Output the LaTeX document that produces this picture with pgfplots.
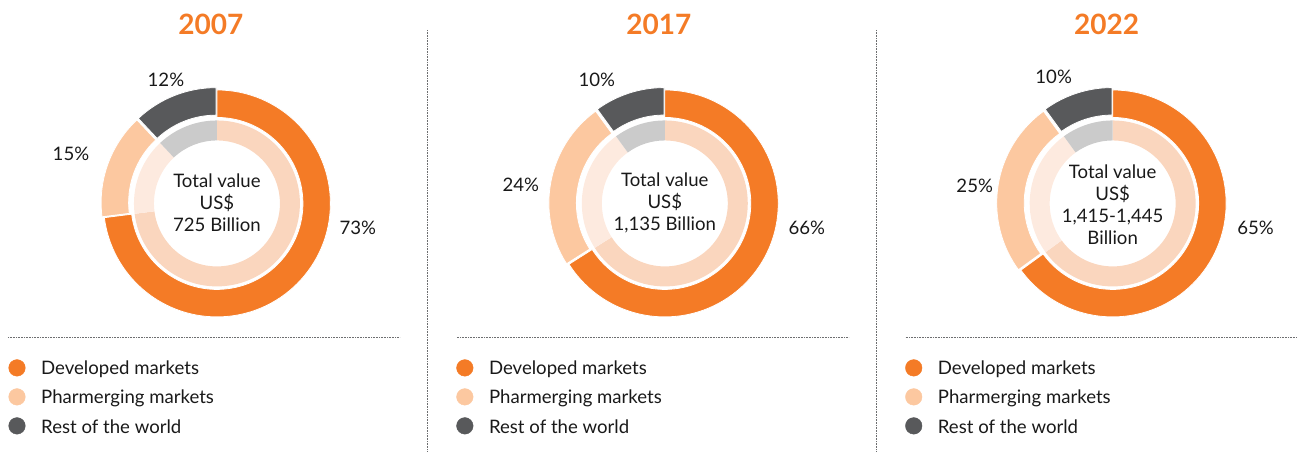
\documentclass[border=0pt]{standalone}
\usepackage{fontspec}
\setmainfont{Lato}
\usepackage{pgfplots}
\pgfplotsset{compat=1.18}

\definecolor{cdev}{HTML}{F47B26}
\definecolor{cpha}{HTML}{FCC8A0}
\definecolor{crow}{HTML}{58595B}
\definecolor{idev}{HTML}{FAD6BE}
\definecolor{ipha}{HTML}{FDEADF}
\definecolor{irow}{HTML}{CBCBCB}
\definecolor{sep}{HTML}{6D6E70}

\tikzset{txt/.style={inner sep=0pt,text=black!90,font=\fontsize{18.6}{22}\selectfont},
  ttl/.style={inner sep=0pt,text=cdev,font=\fontsize{28}{30}\selectfont\bfseries},
  dots/.style={sep,line width=0.8pt,dash pattern=on 0.8pt off 0.8pt}}

% annular sector: start angle, end angle, inner r, outer r
\newcommand{\sector}[5][]{%
  \fill[#1] (#2:#5pt) arc[start angle=#2,end angle=#3,radius=#5pt]
    -- (#3:#4pt) arc[start angle=#3,end angle=#2,radius=#4pt] -- cycle;}

% donut: centre x, centre y, developed, pharmerging, rest (percent)
\newcommand{\donut}[5]{%
  \pgfmathsetmacro\aA{90-3.6*#3}%
  \pgfmathsetmacro\aB{\aA-3.6*#4}%
  \pgfmathsetmacro\mB{(\aA+\aB)/2}%
  \pgfmathsetmacro\mC{(\aB-270)/2}%
  \begin{scope}[shift={(axis cs:#1,#2)}]
    \sector[idev]{90}{\aA}{63}{83}
    \sector[ipha]{\aA}{\aB}{63}{83}
    \sector[irow]{\aB}{-270}{63}{83}
    \sector[cdev,draw=white,line width=0.8pt]{90}{\aA}{86}{113.5}
    \begin{scope}[shift={(\mB:2.5pt)}]
      \sector[cpha,draw=white,line width=0.8pt]{\aA}{\aB}{86}{113.5}
    \end{scope}
    \begin{scope}[shift={(\mC:2.5pt)}]
      \sector[crow,draw=white,line width=0.8pt]{\aB}{-270}{86}{113.5}
    \end{scope}
  \end{scope}}

\newcommand{\legtext}[1]{%
  \node[txt,anchor=west] at (axis cs:#1,82) {Developed markets};
  \node[txt,anchor=west] at (axis cs:#1,53) {Pharmerging markets};
  \node[txt,anchor=west] at (axis cs:#1,24) {Rest of the world};}

\begin{document}
\begin{tikzpicture}
\begin{axis}[x=1pt,y=1pt,scale only axis,
  xmin=0,xmax=1297,ymin=0,ymax=451,
  hide axis,clip=false]
\path (axis cs:0,0) rectangle (axis cs:1297,451);

\pgfplotsextra{%
  \donut{217}{247.5}{73}{15}{12}
  \donut{665}{247.5}{66}{24}{10}
  \donut{1113}{247.5}{65}{25}{10}
  \legtext{41}
  \legtext{489}
  \legtext{938}
}

% separators
\draw[dots] (axis cs:428,421) -- (axis cs:428,0);
\draw[dots] (axis cs:877,421) -- (axis cs:877,0);
\draw[dots] (axis cs:8,113) -- (axis cs:400,113);
\draw[dots] (axis cs:457,113) -- (axis cs:849,113);
\draw[dots] (axis cs:906,113) -- (axis cs:1297,113);

% titles
\node[ttl] at (axis cs:211,427) {2007};
\node[ttl] at (axis cs:659,427) {2017};
\node[ttl] at (axis cs:1107,427) {2022};

% centre texts
\node[txt,align=center] at (axis cs:217,248.5) {Total value\\US\$\\725 Billion};
\node[txt,align=center] at (axis cs:665,248.5) {Total value\\US\$\\1,135 Billion};
\node[txt,align=center] at (axis cs:1113,246.5) {Total value\\US\$\\1,415-1,445\\Billion};

% percentages
\node[txt] at (axis cs:166,371) {12\%};
\node[txt] at (axis cs:71,297) {15\%};
\node[txt] at (axis cs:358,223) {73\%};
\node[txt] at (axis cs:597,371) {10\%};
\node[txt] at (axis cs:521,266) {24\%};
\node[txt] at (axis cs:807,223) {66\%};
\node[txt] at (axis cs:1054,374) {10\%};
\node[txt] at (axis cs:975,265) {25\%};
\node[txt] at (axis cs:1256,223) {65\%};

% legend markers
\addplot[only marks,mark=*,mark size=8.3pt,cdev,mark options={draw=none,fill=cdev}] coordinates {(17,83)(465,83)(914,83)};
\addplot[only marks,mark=*,mark size=8.3pt,cpha,mark options={draw=none,fill=cpha}] coordinates {(17,54)(465,54)(914,54)};
\addplot[only marks,mark=*,mark size=8.3pt,crow,mark options={draw=none,fill=crow}] coordinates {(17,25)(465,25)(914,25)};
\end{axis}
\end{tikzpicture}
\end{document}
